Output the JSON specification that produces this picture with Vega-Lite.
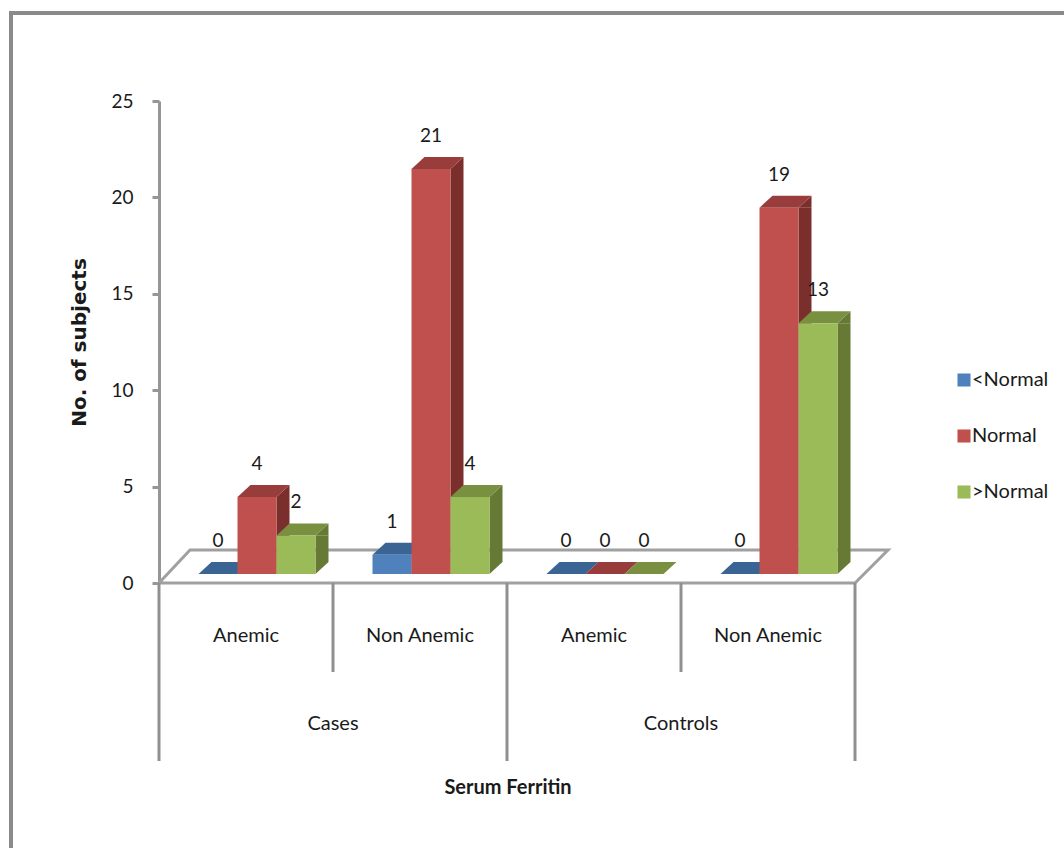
{
  "$schema": "https://vega.github.io/schema/vega-lite/v6.json",
  "width": 696,
  "height": 482,
  "autosize": "none",
  "padding": {"left": 159, "top": 101, "right": 209, "bottom": 265},
  "background": "white",
  "config": {"view": {"stroke": null}},
  "data": {
    "values": [
      {"group": "Cases Anemic", "level": "<Normal", "count": 0},
      {"group": "Cases Anemic", "level": "Normal", "count": 4},
      {"group": "Cases Anemic", "level": ">Normal", "count": 2},
      {"group": "Cases Non Anemic", "level": "<Normal", "count": 1},
      {"group": "Cases Non Anemic", "level": "Normal", "count": 21},
      {"group": "Cases Non Anemic", "level": ">Normal", "count": 4},
      {"group": "Controls Anemic", "level": "<Normal", "count": 0},
      {"group": "Controls Anemic", "level": "Normal", "count": 0},
      {"group": "Controls Anemic", "level": ">Normal", "count": 0},
      {"group": "Controls Non Anemic", "level": "<Normal", "count": 0},
      {"group": "Controls Non Anemic", "level": "Normal", "count": 19},
      {"group": "Controls Non Anemic", "level": ">Normal", "count": 13}
    ]
  },
  "encoding": {
    "x": {
      "field": "group",
      "type": "nominal",
      "scale": {"domain": ["Cases Anemic", "Cases Non Anemic", "Controls Anemic", "Controls Non Anemic"], "paddingInner": 0, "paddingOuter": 0},
      "axis": null
    },
    "y": {
      "field": "count",
      "type": "quantitative",
      "scale": {"domain": [0, 25], "nice": false},
      "axis": {
        "values": [0, 5, 10, 15, 20, 25],
        "title": "No. of subjects",
        "titleFont": "DejaVu Sans",
        "titleFontSize": 20,
        "titleFontWeight": "bold",
        "titleColor": "#1a1a1a",
        "titlePadding": 21,
        "labelFont": "Lato",
        "labelFontSize": 19,
        "labelColor": "#1a1a1a",
        "labelPadding": 19,
        "domainColor": "#969696",
        "domainWidth": 3,
        "tickColor": "#969696",
        "tickWidth": 3,
        "tickSize": 7,
        "grid": false
      }
    }
  },
  "layer": [
    {
      "description": "Top and left edges of the figure frame",
      "data": {"values": [{"group": "Cases Anemic", "count": 0}]},
      "mark": {"type": "point", "filled": false, "opacity": 1, "size": 4, "stroke": "#8a8a8a", "strokeWidth": 4,
        "shape": "M-235,280 L-235,-570 L830,-570"}
    },
    {
      "description": "Chart floor",
      "data": {"values": [{"group": "Controls Anemic", "count": 0}]},
      "mark": {"type": "point", "filled": true, "opacity": 1, "size": 4, "fill": "white", "stroke": "#a0a0a0", "strokeWidth": 3,
        "shape": "M-435,0 L-404,-33 L294,-33 L261,0 Z"}
    },
    {
      "description": "Short dividers between the anemia categories",
      "data": {"values": [{"group": "Cases Non Anemic", "count": 0}, {"group": "Controls Non Anemic", "count": 0}]},
      "mark": {"type": "point", "filled": false, "opacity": 1, "size": 4, "stroke": "#909090", "strokeWidth": 3,
        "shape": "M-87,0 L-87,89"}
    },
    {
      "description": "Long dividers between the study groups",
      "data": {"values": [{"group": "Cases Anemic", "count": 0}, {"group": "Controls Anemic", "count": 0}]},
      "mark": {"type": "point", "filled": false, "opacity": 1, "size": 4, "stroke": "#909090", "strokeWidth": 3,
        "shape": "M-87,0 L-87,178"}
    },
    {
      "description": "Closing divider at the right end",
      "data": {"values": [{"group": "Controls Non Anemic", "count": 0}]},
      "mark": {"type": "point", "filled": false, "opacity": 1, "size": 4, "stroke": "#909090", "strokeWidth": 3,
        "shape": "M87,0 L87,178"}
    },
    {
      "description": "Right-hand faces of the bars, one bar depth to the right of the fronts",
      "transform": [{"filter": "datum.count > 0"}],
      "mark": {"type": "bar", "width": 13, "yOffset": -9, "y2Offset": -21},
      "encoding": {
        "xOffset": {"field": "level", "type": "nominal", "scale": {"domain": ["<Normal", "Normal", ">Normal"], "range": [65.5, 182.5], "padding": 0}},
        "y2": {"datum": 0},
        "color": {"field": "level", "type": "nominal", "legend": null,
          "scale": {"domain": ["<Normal", "Normal", ">Normal"], "range": ["#2f5a8a", "#7b2f2d", "#667a35"]}}
      }
    },
    {
      "description": "Slanted top ends of the right-hand faces",
      "transform": [{"filter": "datum.count > 0"}],
      "mark": {"type": "point", "filled": true, "opacity": 1, "size": 4, "yOffset": -9,
        "shape": "M19.5,0 L32.5,-12 L32.5,0 Z"},
      "encoding": {
        "xOffset": {"field": "level", "type": "nominal", "scale": {"domain": ["<Normal", "Normal", ">Normal"], "range": [59, 137], "padding": 0}},
        "color": {"field": "level", "type": "nominal", "legend": null,
          "scale": {"domain": ["<Normal", "Normal", ">Normal"], "range": ["#2f5a8a", "#7b2f2d", "#667a35"]}}
      }
    },
    {
      "description": "Slanted bottom ends of the right-hand faces",
      "transform": [{"filter": "datum.count > 0"}],
      "mark": {"type": "point", "filled": true, "opacity": 1, "size": 4, "yOffset": -9,
        "shape": "M19.5,0 L32.5,-12 L19.5,-12 Z"},
      "encoding": {
        "xOffset": {"field": "level", "type": "nominal", "scale": {"domain": ["<Normal", "Normal", ">Normal"], "range": [59, 137], "padding": 0}},
        "y": {"datum": 0},
        "color": {"field": "level", "type": "nominal", "legend": null,
          "scale": {"domain": ["<Normal", "Normal", ">Normal"], "range": ["#2f5a8a", "#7b2f2d", "#667a35"]}}
      }
    },
    {
      "description": "Top faces of the bars",
      "mark": {"type": "point", "filled": true, "opacity": 1, "size": 4, "yOffset": -9,
        "shape": "M-19.5,0 L-6.5,-12 L32.5,-12 L19.5,0 Z"},
      "encoding": {
        "xOffset": {"field": "level", "type": "nominal", "scale": {"domain": ["<Normal", "Normal", ">Normal"], "range": [59, 137], "padding": 0}},
        "color": {"field": "level", "type": "nominal", "legend": null,
          "scale": {"domain": ["<Normal", "Normal", ">Normal"], "range": ["#3a6494", "#983d3b", "#789040"]}}
      }
    },
    {
      "description": "Front faces of the bars, which also carry the legend",
      "mark": {"type": "bar", "width": 39, "yOffset": -9, "y2Offset": -9},
      "encoding": {
        "xOffset": {"field": "level", "type": "nominal", "scale": {"domain": ["<Normal", "Normal", ">Normal"], "range": [39.5, 156.5], "padding": 0}},
        "y2": {"datum": 0},
        "color": {
          "field": "level",
          "type": "nominal",
          "scale": {"domain": ["<Normal", "Normal", ">Normal"], "range": ["#4f81bd", "#c0504d", "#9bbb59"]},
          "legend": {
            "orient": "none",
            "legendX": 795,
            "legendY": 269,
            "title": null,
            "symbolType": "square",
            "symbolSize": 170,
            "symbolStrokeWidth": 0,
            "labelFont": "Lato",
            "labelFontSize": 20,
            "labelColor": "#1a1a1a",
            "labelOffset": -2,
            "rowPadding": 36
          }
        }
      }
    },
    {
      "description": "Value labels above the bars",
      "mark": {"type": "text", "font": "Lato", "fontSize": 19, "fill": "#1a1a1a", "baseline": "middle", "align": "center", "dy": -42},
      "encoding": {
        "xOffset": {"field": "level", "type": "nominal", "scale": {"domain": ["<Normal", "Normal", ">Normal"], "range": [59, 137], "padding": 0}},
        "text": {"field": "count", "type": "quantitative"}
      }
    },
    {
      "description": "Anemia category labels",
      "data": {"values": [
        {"group": "Cases Anemic", "count": 0, "label": "Anemic"},
        {"group": "Cases Non Anemic", "count": 0, "label": "Non Anemic"},
        {"group": "Controls Anemic", "count": 0, "label": "Anemic"},
        {"group": "Controls Non Anemic", "count": 0, "label": "Non Anemic"}
      ]},
      "mark": {"type": "text", "font": "Lato", "fontSize": 20, "fill": "#1a1a1a", "baseline": "middle", "align": "center", "dy": 53},
      "encoding": {"text": {"field": "label"}}
    },
    {
      "description": "Study group labels, centred on the divider between their two categories",
      "data": {"values": [
        {"group": "Cases Non Anemic", "count": 0, "label": "Cases"},
        {"group": "Controls Non Anemic", "count": 0, "label": "Controls"}
      ]},
      "mark": {"type": "text", "font": "Lato", "fontSize": 20, "fill": "#1a1a1a", "baseline": "middle", "align": "center", "dx": -87, "dy": 141},
      "encoding": {"text": {"field": "label"}}
    },
    {
      "description": "Horizontal axis title",
      "data": {"values": [{"group": "Controls Anemic", "count": 0, "label": "Serum Ferritin"}]},
      "mark": {"type": "text", "font": "Lato", "fontWeight": "bold", "fontSize": 20, "fill": "#1a1a1a", "baseline": "middle", "align": "center", "dx": -86, "dy": 205},
      "encoding": {"text": {"field": "label"}}
    }
  ],
  "resolve": {"scale": {"color": "independent", "xOffset": "independent"}}
}
